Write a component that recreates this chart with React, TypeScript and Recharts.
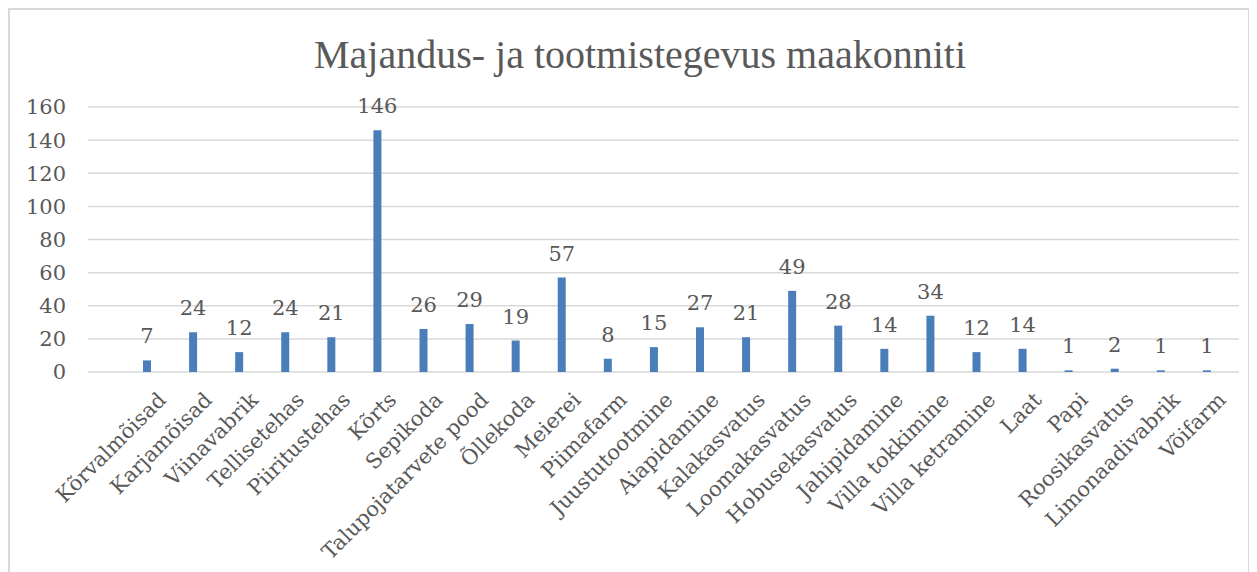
import { BarChart, Bar, XAxis, YAxis, CartesianGrid, LabelList } from 'recharts';

const categories = [
  'Kõrvalmõisad', 'Karjamõisad', 'Viinavabrik', 'Tellisetehas', 'Piiritustehas', 'Kõrts',
  'Sepikoda', 'Talupojatarvete pood', 'Õllekoda', 'Meierei', 'Piimafarm', 'Juustutootmine',
  'Aiapidamine', 'Kalakasvatus', 'Loomakasvatus', 'Hobusekasvatus', 'Jahipidamine',
  'Villa tokkimine', 'Villa ketramine', 'Laat', 'Papi', 'Roosikasvatus', 'Limonaadivabrik', 'Võifarm',
];
const counts = [7, 24, 12, 24, 21, 146, 26, 29, 19, 57, 8, 15, 27, 21, 49, 28, 14, 34, 12, 14, 1, 2, 1, 1];
const yTicks = [0, 20, 40, 60, 80, 100, 120, 140, 160];

const data = categories.map((name, i) => ({ name, value: counts[i] }));

const TEXT = '#595959';
const LABEL_FONT = '"DejaVu Serif", serif';

const XTick = ({ x, y, payload }: Record<string, any>) => (
  <g transform={`translate(${x + 15},${y + 24})`}>
    <text
      x={0}
      y={0}
      dy="0.35em"
      textAnchor="end"
      transform="rotate(-45)"
      fill={TEXT}
      fontSize={21}
      fontFamily={LABEL_FONT}
    >
      {payload.value}
    </text>
  </g>
);

export default function App() {
  return (
    <div
      style={{
        position: 'relative',
        width: 1242,
        height: 600,
        border: '2px solid #d9d9d9',
        boxSizing: 'border-box',
      }}
    >
      <div
        style={{
          position: 'absolute',
          top: 25,
          left: 630,
          transform: 'translateX(-50%)',
          whiteSpace: 'nowrap',
          fontFamily: '"Liberation Serif", serif',
          fontSize: 40,
          lineHeight: '40px',
          color: TEXT,
        }}
      >
        Majandus- ja tootmistegevus maakonniti
      </div>
      <div style={{ position: 'absolute', top: 0, left: 0 }}>
        <BarChart width={1238} height={562} data={data} margin={{ top: 97, right: 9, left: 0, bottom: 0 }}>
          <CartesianGrid vertical={false} stroke="#d9d9d9" strokeWidth={1.5} />
          <XAxis
            dataKey="name"
            interval={0}
            height={200}
            padding={{ left: 36, right: 9 }}
            axisLine={false}
            tickLine={false}
            tickSize={0}
            tickMargin={0}
            tick={<XTick />}
          />
          <YAxis
            domain={[0, 160]}
            ticks={yTicks}
            width={78}
            axisLine={false}
            tickLine={false}
            tickSize={0}
            tickMargin={22}
            tick={{ fill: TEXT, fontSize: 21, fontFamily: LABEL_FONT }}
          />
          <Bar dataKey="value" fill="#4a7ebb" barSize={8} isAnimationActive={false}>
            <LabelList
              dataKey="value"
              position="top"
              offset={17}
              fill={TEXT}
              fontSize={21}
              fontFamily={LABEL_FONT}
            />
          </Bar>
        </BarChart>
      </div>
    </div>
  );
}
